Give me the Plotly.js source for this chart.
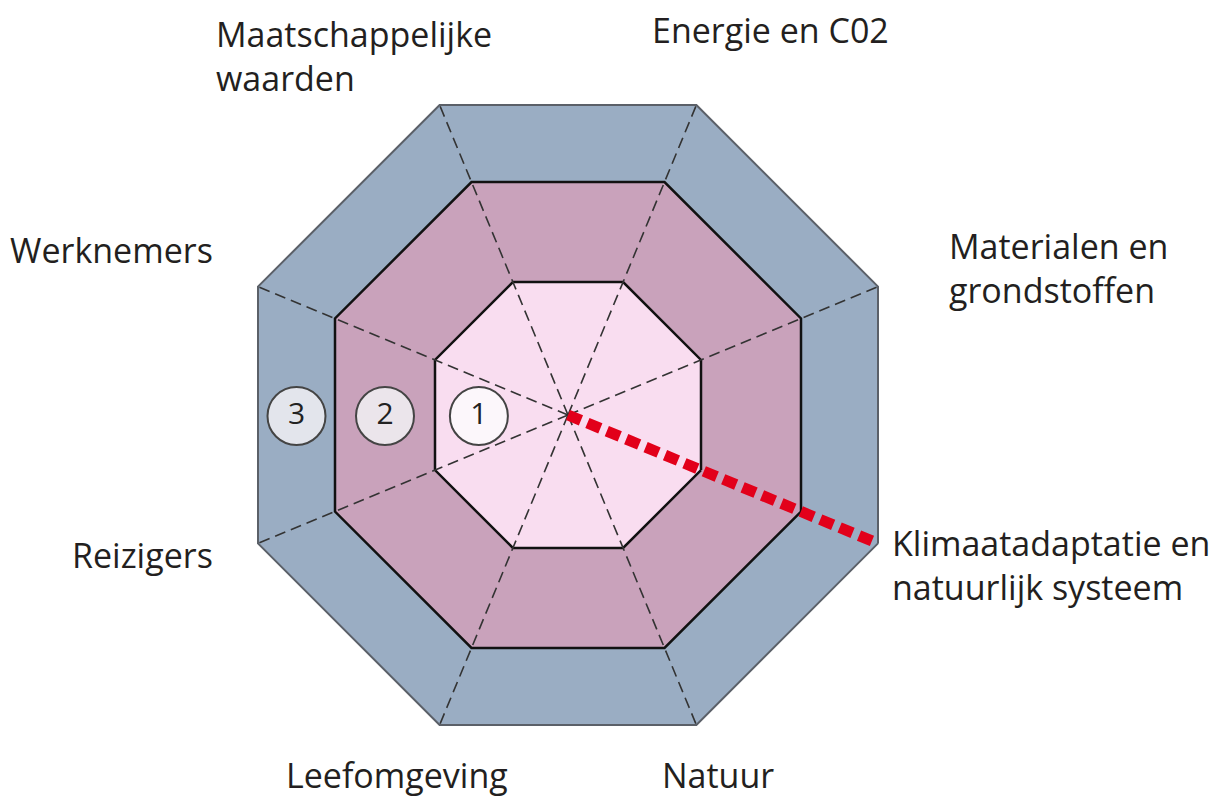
<!DOCTYPE html>
<html>
<head>
<meta charset="utf-8">
<script src="https://cdn.plot.ly/plotly-3.0.1.min.js"></script>
<style>html,body{margin:0;padding:0;background:#fff;}#chart{width:1221px;height:800px;}</style>
</head>
<body>
<div id="chart"></div>
<script>
// ---- data ----
// categories in counter-clockwise order, starting at the lower-right spoke
var categories = [
  "Klimaatadaptatie en<br>natuurlijk systeem",
  "Materialen en<br>grondstoffen",
  "Energie en C02",
  "Maatschappelijke<br>waarden",
  "Werknemers",
  "Reizigers",
  "Leefomgeving",
  "Natuur"
];
var levels = [1, 2, 3];
var levelLabels = ["1", "2", "3"];
// highlighted score: category and its level
var highlightCategory = "Klimaatadaptatie en<br>natuurlijk systeem";
var highlightLevel = 3;

// ---- scales / styles ----
var levelApothem = {0: 0, 1: 133, 2: 233, 3: 310};   // ring scale (level -> distance to flat side)
var ringFill = {1: "#f9ddf0", 2: "#c9a2bb", 3: "#9aadc3"};
var ringLine = {1: {color: "#111", width: 2.5}, 2: {color: "#111", width: 2.5}, 3: {color: "#5b6068", width: 2}};
var badgeFill = {1: "#fcf7fb", 2: "#ebe5eb", 3: "#e3e5ec"};
var n = categories.length;
var angleOf = function (i) { return (-22.5 + 45 * i) * Math.PI / 180; };
var vertex = function (i, lvl) {
  var r = levelApothem[lvl] / Math.cos(Math.PI / 8);
  return [r * Math.cos(angleOf(i)), r * Math.sin(angleOf(i))];
};
var hi = categories.indexOf(highlightCategory);

var traces = [];
// rings, outer first
levels.slice().reverse().forEach(function (lvl) {
  var xs = [], ys = [];
  for (var i = 0; i <= n; i++) { var v = vertex(i % n, lvl); xs.push(v[0]); ys.push(v[1]); }
  traces.push({x: xs, y: ys, mode: "lines", fill: "toself", fillcolor: ringFill[lvl],
    line: ringLine[lvl], hoverinfo: "skip", type: "scatter"});
});
// spokes (the highlighted one is replaced by the score line)
var sx = [], sy = [];
for (var i = 0; i < n; i++) {
  if (i === hi) continue;
  var v = vertex(i, levels[levels.length - 1]);
  sx.push(0, v[0], null); sy.push(0, v[1], null);
}
traces.push({x: sx, y: sy, mode: "lines", line: {color: "#333", width: 1.6, dash: "11px,6px"},
  hoverinfo: "skip", type: "scatter"});
// highlighted score line
var hv = vertex(hi, highlightLevel);
traces.push({x: [0, hv[0]], y: [0, hv[1]], mode: "lines",
  line: {color: "#e2001a", width: 11, dash: "14px,7px"}, hoverinfo: "skip", type: "scatter"});
// level badges on the left horizontal axis
var bx = levels.map(function (lvl) {
  return lvl === 1 ? -levelApothem[1] * 0.67 : -(levelApothem[lvl - 1] + levelApothem[lvl]) / 2;
});
traces.push({x: bx, y: levels.map(function () { return -1; }), mode: "markers+text",
  text: levelLabels, textposition: "middle center",
  textfont: {family: "Open Sans, sans-serif", size: 30, color: "#222"},
  marker: {size: 58, color: levels.map(function (l) { return badgeFill[l]; }),
    line: {color: "#444", width: 2}},
  hoverinfo: "skip", type: "scatter", cliponaxis: false});

// label placement (pixel-like offsets in data units)
var labelPos = [
  {x: 322, y: -150, xanchor: "left", align: "left"},
  {x: 379, y: 147, xanchor: "left", align: "left"},
  {x: 202, y: 385, xanchor: "center", align: "center"},
  {x: -354, y: 359, xanchor: "left", align: "left"},
  {x: -353, y: 165, xanchor: "right", align: "right"},
  {x: -353, y: -140, xanchor: "right", align: "right"},
  {x: -171, y: -360, xanchor: "center", align: "center"},
  {x: 150, y: -360, xanchor: "center", align: "center"}
];
var annotations = categories.map(function (c, i) {
  var p = labelPos[i];
  return {x: p.x, y: p.y, xref: "x", yref: "y", text: c, showarrow: false,
    xanchor: p.xanchor, yanchor: "middle", align: p.align,
    font: {family: "Open Sans, sans-serif", size: 34, color: "#231f20"}};
});

var ax = {showgrid: false, zeroline: false, showticklabels: false, showline: false, ticks: "", fixedrange: true};
var layout = {
  width: 1221, height: 800,
  margin: {l: 0, r: 0, t: 0, b: 0},
  paper_bgcolor: "#fff", plot_bgcolor: "#fff",
  showlegend: false, hovermode: false,
  xaxis: Object.assign({range: [-568, 653]}, ax),
  yaxis: Object.assign({range: [-385, 415]}, ax),
  annotations: annotations
};
Plotly.newPlot("chart", traces, layout, {displayModeBar: false, staticPlot: true});
</script>
</body>
</html>
